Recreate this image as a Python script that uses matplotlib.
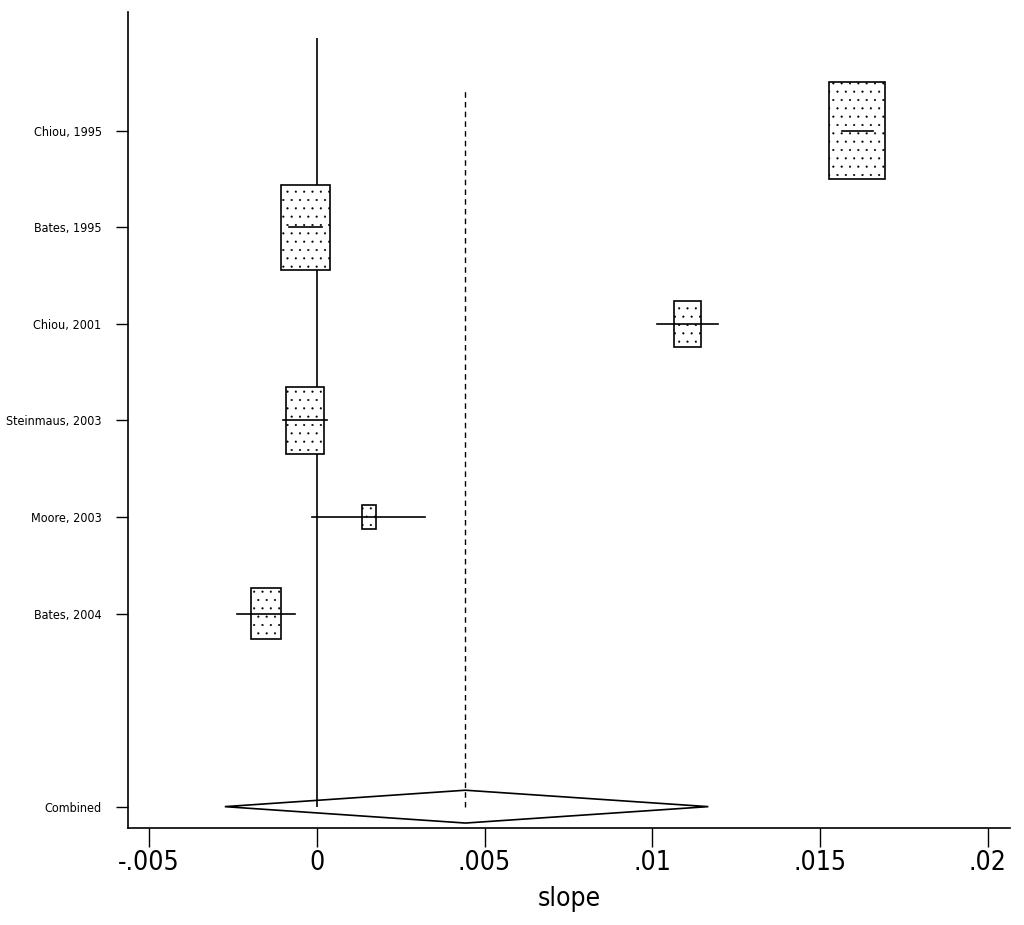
import numpy as np
import matplotlib.pyplot as plt
from matplotlib.patches import Rectangle, Polygon

plt.rcParams['font.family'] = ['DejaVu Sans']
plt.rcParams['font.stretch'] = 'condensed'
plt.rcParams['hatch.linewidth'] = 0.3

# study data (slope estimates with 95% CI, weights in %)
studies = ['Chiou, 1995', 'Bates, 1995', 'Chiou, 2001', 'Steinmaus, 2003',
           'Moore, 2003', 'Bates, 2004']
est = [0.0161, -0.00034, 0.01106, -0.00035, 0.00155, -0.00152]
lo = [0.01565, -0.00083, 0.01015, -0.00101, -0.00015, -0.00238]
hi = [0.01658, 0.00015, 0.01196, 0.00030, 0.00324, -0.00065]
weight = [35.3, 27.0, 8.2, 17.1, 2.2, 10.1]

comb_label = 'Combined'
comb_est = 0.00443
comb_lo = -0.00274
comb_hi = 0.01167

xticks = [-0.005, 0, 0.005, 0.01, 0.015, 0.02]
xticklabels = ['-.005', '0', '.005', '.01', '.015', '.02']

ypos = np.arange(len(studies) + 3, 3, -1)  # 9 .. 4
comb_y = 2

fig = plt.figure(figsize=(10.24, 9.25), dpi=100)
ax = fig.add_axes([0.125, 0.105, 0.861, 0.882])

# box sizes ~ sqrt(weight)
kx = 0.0002805
ky = 0.1689
for y, e, l, h, w in zip(ypos, est, lo, hi, weight):
    bw = kx * np.sqrt(w)
    bh = ky * np.sqrt(w)
    ax.add_patch(Rectangle((e - bw / 2, y - bh / 2), bw, bh, facecolor='white',
                           edgecolor='black', lw=1.2, hatch='..', zorder=3))
    ax.plot([l, h], [y, y], color='black', lw=1.2, zorder=4)

# null line and combined estimate line
ax.vlines(0, comb_y, 9.96, color='black', lw=1.2, zorder=2)
ax.vlines(comb_est, comb_y, 9.42, color='black', lw=1.0, linestyles=(0, (4, 3)), zorder=2)

dh = 0.17
ax.add_patch(Polygon([(comb_lo, comb_y), (comb_est, comb_y + dh), (comb_hi, comb_y),
                      (comb_est, comb_y - dh)], closed=True, facecolor='none',
                     edgecolor='black', lw=1.2, zorder=5))

ax.set_xlim(-0.005625, 0.02065)
ax.set_ylim(1.78, 10.23)
ax.set_xticks(xticks)
ax.set_xticklabels(xticklabels, fontsize=19)
ax.set_yticks(list(ypos) + [comb_y])
ax.set_yticklabels(studies + [comb_label], fontsize=9)
ax.tick_params(axis='x', length=14, width=1.0, pad=2)
ax.tick_params(axis='y', length=9, width=1.0, pad=10)
ax.set_xlabel('slope', fontsize=19, labelpad=7)

for s in ['top', 'right']:
    ax.spines[s].set_visible(False)
ax.spines['left'].set_linewidth(1.2)
ax.spines['bottom'].set_linewidth(1.2)

fig.savefig('out.png', dpi=100)
